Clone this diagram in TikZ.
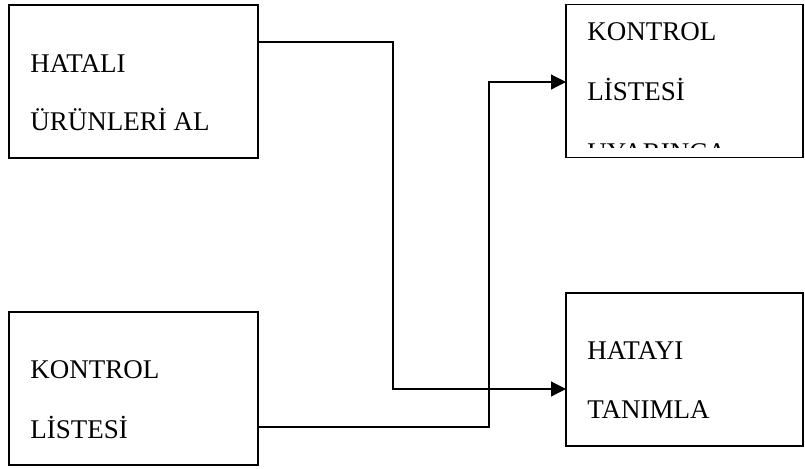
\documentclass[tikz,border=0pt]{standalone}
\usepackage{fontspec}
\setmainfont{Liberation Serif}
\usetikzlibrary{arrows.meta}

\tikzset{
    kutu/.style={draw, line width=0.75pt, rectangle, inner sep=0pt, outer sep=0pt,
        minimum height=76.5pt},
    yazi/.style={anchor=base west, inner sep=0pt, font=\fontsize{13.5}{16}\selectfont},
    ok/.style={line width=0.6pt, -{Triangle[length=7.5pt,width=7.5pt]}}
}

\begin{document}
\begin{tikzpicture}[x=0.5pt,y=-0.5pt]

\useasboundingbox (0,0) rectangle (805,468);

% Boxes
\node[kutu, minimum width=124.5pt] (hatali) at (133.5,81.5) {};
\node[kutu, minimum width=124.5pt] (liste) at (133.5,388.5) {};
\node[kutu, minimum width=118.5pt] (kontrol) at (684.5,81) {};
\node[kutu, minimum width=118.5pt] (tanimla) at (684.5,369.5) {};

% Texts
\node[yazi] at (30,72) {HATALI};
\node[yazi] at (30,130) {ÜRÜNLERİ AL};

\node[yazi] at (30,378) {KONTROL};
\node[yazi] at (30,438) {LİSTESİ};

\node[yazi] at (587,40) {KONTROL};
\node[yazi] at (587,100) {LİSTESİ};
\begin{scope}
\clip (566,0) rectangle (803,147.5);
\node[yazi] at (587,161) {UYARINCA};
\end{scope}

\node[yazi] at (587,359) {HATAYI};
\node[yazi] at (587,418) {TANIMLA};

% Connectors
\draw[ok] (hatali.east |- 0,42) -- (393,42) -- (393,389) -- (tanimla.west |- 0,389);
\draw[ok] (liste.east |- 0,427) -- (489,427) -- (489,82) -- (kontrol.west |- 0,82);

\end{tikzpicture}
\end{document}
